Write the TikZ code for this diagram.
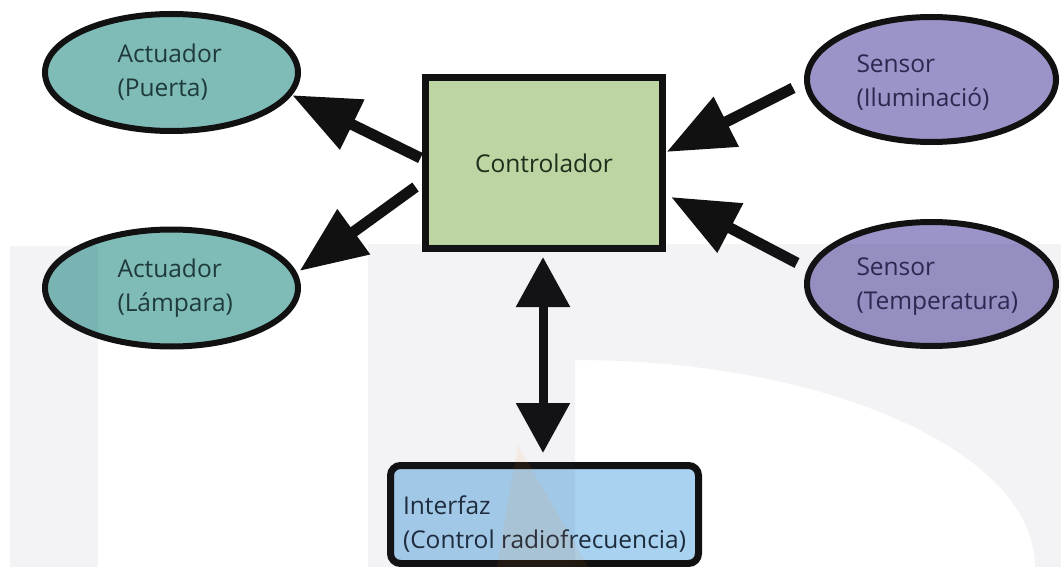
\documentclass[tikz,border=0pt]{standalone}
\usepackage{fontspec}
\setmainfont{Open Sans}
\usetikzlibrary{arrows.meta,shapes.geometric}
\definecolor{tealfill}{HTML}{7FBCB8}
\definecolor{purplefill}{HTML}{9A94C8}
\definecolor{greenfill}{HTML}{BDD4A3}
\definecolor{bluefill}{HTML}{A9D1F0}
\definecolor{tealtext}{HTML}{1F3A3A}
\definecolor{purpletext}{HTML}{2B2850}
\definecolor{greentext}{HTML}{1E2E1A}
\definecolor{bluetext}{HTML}{1C2C3C}
\definecolor{outline}{HTML}{111111}
\definecolor{wmgray}{HTML}{3A3A60}
\tikzset{
  lbl/.style={font=\fontsize{24.5pt}{34pt}\selectfont, align=left},
  actnode/.style={lbl, ellipse, draw=outline, line width=6pt, fill=tealfill, text=tealtext,
    minimum width=253pt, minimum height=117pt, inner sep=0pt, outer sep=0pt, text width=108pt},
  sennode/.style={lbl, ellipse, draw=outline, line width=6pt, fill=purplefill, text=purpletext,
    minimum width=249pt, minimum height=125pt, inner sep=0pt, outer sep=0pt, text width=150pt},
  ctrlnode/.style={lbl, rectangle, draw=outline, line width=7pt, fill=greenfill, text=greentext,
    minimum width=237pt, minimum height=171pt, inner sep=0pt, outer sep=0pt},
  ifnode/.style={lbl, rectangle, rounded corners=10pt, draw=outline, line width=7pt, fill=bluefill, text=bluetext,
    minimum width=308pt, minimum height=98pt, inner sep=0pt, outer sep=0pt},
  bigarrow/.style={draw=outline, line width=11pt, -{Triangle[length=67pt,width=53pt]}},
  duoarrow/.style={draw=outline, line width=9pt, {Triangle[length=50pt,width=52pt]}-{Triangle[length=50pt,width=52pt]}},
  wmark/.style={fill=wmgray, fill opacity=0.06}
}
\begin{document}
\begin{tikzpicture}[x=1pt,y=-1pt]
\useasboundingbox (0,0) rectangle (1061,567);
\fill[white] (0,0) rectangle (1061,567);

\node[actnode] (puerta) at (171.5,72.5) {Actuador\\(Puerta)};
\node[actnode] (lampara) at (171.5,288) {Actuador\\(Lámpara)};
\node[sennode] (ilum) at (931.5,79.5) {\rule{0pt}{24pt}Sensor\\(Iluminació)};
\node[sennode, minimum height=124pt] (temp) at (931.5,284) {\rule{0pt}{22pt}Sensor\\(Temperatura)};
\node[ctrlnode] (ctrl) at (544,163) {Controlador};
\node[ifnode] (iface) at (544.5,514.5) {\rule{0pt}{38pt}Interfaz\\(Control radiofrecuencia)};

\draw[bigarrow] ([xshift=-5pt,yshift=5pt]ctrl.west) -- ([xshift=4pt]puerta.-11);
\draw[bigarrow] ([xshift=-10pt,yshift=-24pt]ctrl.west) -- ([xshift=7pt]lampara.8);
\draw[bigarrow] ([xshift=-14pt,yshift=-8.5pt]ilum.west) -- ([xshift=4pt,yshift=11pt]ctrl.east);
\draw[bigarrow] ([xshift=-10pt,yshift=21pt]temp.west) -- ([xshift=8.5pt,yshift=-34pt]ctrl.east);
\draw[duoarrow] ([xshift=-1pt,yshift=-8.5pt]ctrl.south) -- ([xshift=-1.5pt,yshift=12.5pt]iface.north);

% faint watermark
\fill[wmark] (10,246) rectangle (98,567);
\fill[wmark, even odd rule] (368,244) rectangle (1061,567)
  (575,567) -- (575,360) arc[start angle=90, end angle=0, x radius=460, y radius=-207] -- cycle;
\fill[fill=orange, fill opacity=0.07] (518,445) -- (588,567) -- (497,567) -- cycle;
\end{tikzpicture}
\end{document}
